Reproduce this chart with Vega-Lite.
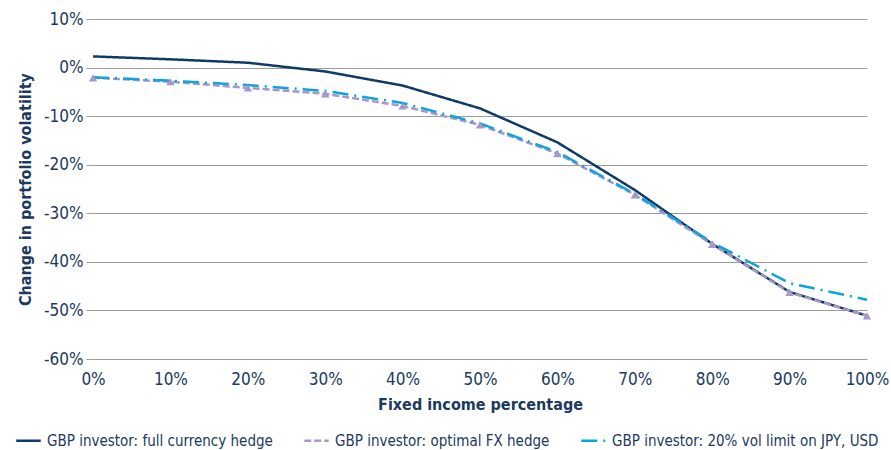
{
  "$schema": "https://vega.github.io/schema/vega-lite/v6.json",
  "width": 774,
  "height": 340,
  "autosize": {"type": "none"},
  "padding": {"left": 93, "top": 19, "right": 24, "bottom": 91},
  "config": {
    "view": {"stroke": null},
    "font": "DejaVu Sans Condensed, Roboto, sans-serif",
    "axis": {"labelFont": "DejaVu Sans Condensed, Roboto, sans-serif", "titleFont": "DejaVu Sans Condensed, Roboto, sans-serif", "labelColor": "#1b3a5e", "titleColor": "#1b3a5e", "labelFontSize": 17, "titleFontSize": 16, "titleFontWeight": "bold", "gridColor": "#9a9a9a", "gridWidth": 1, "tickColor": "#9a9a9a", "domainColor": "#9a9a9a"},
    "legend": {"labelFont": "DejaVu Sans Condensed, Roboto, sans-serif", "labelColor": "#1b3a5e", "labelFontSize": 15, "labelLimit": 0}
  },
  "data": {"values": [
    {"s": "GBP investor: full currency hedge", "x": 0.0, "y": 0.023},
    {"s": "GBP investor: full currency hedge", "x": 0.1, "y": 0.017},
    {"s": "GBP investor: full currency hedge", "x": 0.2, "y": 0.01},
    {"s": "GBP investor: full currency hedge", "x": 0.3, "y": -0.008},
    {"s": "GBP investor: full currency hedge", "x": 0.4, "y": -0.037},
    {"s": "GBP investor: full currency hedge", "x": 0.5, "y": -0.084},
    {"s": "GBP investor: full currency hedge", "x": 0.6, "y": -0.154},
    {"s": "GBP investor: full currency hedge", "x": 0.7, "y": -0.252},
    {"s": "GBP investor: full currency hedge", "x": 0.8, "y": -0.363},
    {"s": "GBP investor: full currency hedge", "x": 0.9, "y": -0.462},
    {"s": "GBP investor: full currency hedge", "x": 1.0, "y": -0.511},
    {"s": "GBP investor: optimal FX hedge", "x": 0.0, "y": -0.021},
    {"s": "GBP investor: optimal FX hedge", "x": 0.1, "y": -0.029},
    {"s": "GBP investor: optimal FX hedge", "x": 0.2, "y": -0.042},
    {"s": "GBP investor: optimal FX hedge", "x": 0.3, "y": -0.054},
    {"s": "GBP investor: optimal FX hedge", "x": 0.4, "y": -0.079},
    {"s": "GBP investor: optimal FX hedge", "x": 0.5, "y": -0.118},
    {"s": "GBP investor: optimal FX hedge", "x": 0.6, "y": -0.177},
    {"s": "GBP investor: optimal FX hedge", "x": 0.7, "y": -0.262},
    {"s": "GBP investor: optimal FX hedge", "x": 0.8, "y": -0.364},
    {"s": "GBP investor: optimal FX hedge", "x": 0.9, "y": -0.463},
    {"s": "GBP investor: optimal FX hedge", "x": 1.0, "y": -0.511},
    {"s": "GBP investor: 20% vol limit on JPY, USD", "x": 0.0, "y": -0.02},
    {"s": "GBP investor: 20% vol limit on JPY, USD", "x": 0.1, "y": -0.027},
    {"s": "GBP investor: 20% vol limit on JPY, USD", "x": 0.2, "y": -0.036},
    {"s": "GBP investor: 20% vol limit on JPY, USD", "x": 0.3, "y": -0.048},
    {"s": "GBP investor: 20% vol limit on JPY, USD", "x": 0.4, "y": -0.073},
    {"s": "GBP investor: 20% vol limit on JPY, USD", "x": 0.5, "y": -0.115},
    {"s": "GBP investor: 20% vol limit on JPY, USD", "x": 0.6, "y": -0.174},
    {"s": "GBP investor: 20% vol limit on JPY, USD", "x": 0.7, "y": -0.26},
    {"s": "GBP investor: 20% vol limit on JPY, USD", "x": 0.8, "y": -0.36},
    {"s": "GBP investor: 20% vol limit on JPY, USD", "x": 0.9, "y": -0.444},
    {"s": "GBP investor: 20% vol limit on JPY, USD", "x": 1.0, "y": -0.478}
  ]},
  "encoding": {
    "x": {"field": "x", "type": "quantitative", "scale": {"domain": [0, 1], "nice": false},
      "axis": {"title": "Fixed income percentage", "format": ".0%", "values": [0, 0.1, 0.2, 0.3, 0.4, 0.5, 0.6, 0.7, 0.8, 0.9, 1], "grid": false, "ticks": false, "domain": false, "labelPadding": 12, "titlePadding": 9, "labelFlush": false}},
    "y": {"field": "y", "type": "quantitative", "scale": {"domain": [-0.6, 0.1], "nice": false},
      "axis": {"title": "Change  in portfolio volatility", "format": ".0%", "labelExpr": "replace(datum.label, '\u2212', '-')", "values": [0.1, 0, -0.1, -0.2, -0.3, -0.4, -0.5, -0.6], "domain": false, "tickSize": 7, "labelPadding": 3, "titlePadding": 10}}
  },
  "layer": [
    {
      "mark": {"type": "line", "strokeWidth": 2.5},
      "encoding": {
        "color": {"field": "s", "type": "nominal", "sort": ["GBP investor: full currency hedge", "GBP investor: optimal FX hedge", "GBP investor: 20% vol limit on JPY, USD"],
          "scale": {"domain": ["GBP investor: full currency hedge", "GBP investor: optimal FX hedge", "GBP investor: 20% vol limit on JPY, USD"], "range": ["#0e3a66", "#a897ca", "#0ea3de"]},
          "legend": {"title": null, "orient": "none", "direction": "horizontal", "legendX": -78, "legendY": 408, "symbolType": "stroke", "symbolSize": 600, "symbolStrokeWidth": 2.5, "columnPadding": 26, "labelOffset": 5}},
        "strokeDash": {"field": "s", "type": "nominal",
          "scale": {"domain": ["GBP investor: full currency hedge", "GBP investor: optimal FX hedge", "GBP investor: 20% vol limit on JPY, USD"], "range": [[1, 0], [7, 3], [16, 6, 2, 6]]},
          "legend": null},
        "order": {"field": "x"}
      }
    },
    {
      "transform": [{"filter": "datum.s === 'GBP investor: optimal FX hedge'"}],
      "mark": {"type": "point", "shape": "triangle-up", "filled": true, "opacity": 1, "size": 70, "color": "#a897ca"},
      "encoding": {}
    }
  ]
}
